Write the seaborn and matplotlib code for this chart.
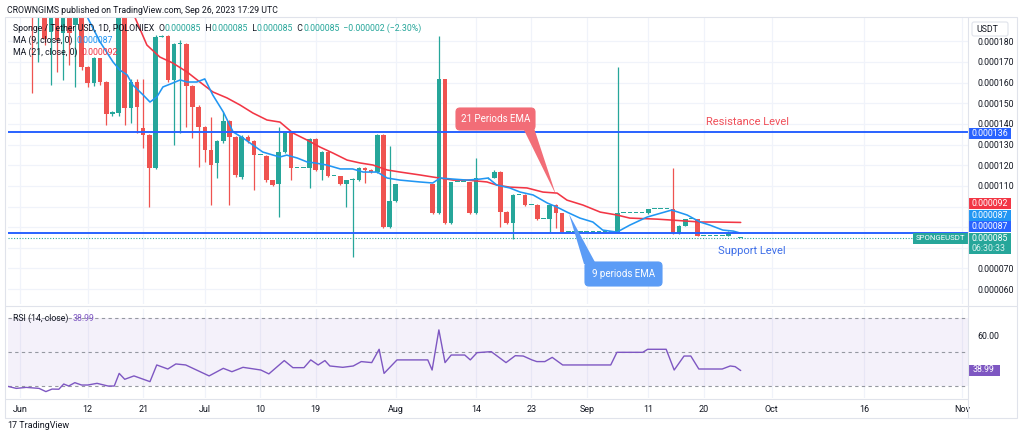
import matplotlib
matplotlib.use("Agg")
import matplotlib.pyplot as plt
import matplotlib.dates as mdates
from matplotlib.patches import Polygon, FancyBboxPatch, Rectangle
import seaborn as sns
import numpy as np
import pandas as pd

# SPONGE/USDT daily candles from 2023-06-03, prices in millionths of USDT
candle_start = "2023-06-03"
opens = [215, 200, 208, 184.7, 196, 184, 197, 188, 196, 167.7,
         159.7, 171.8, 160.5, 144.6, 145.5, 196, 147.5, 160.5, 137.9, 134.6,
         118.5, 182.3, 182.8, 161.3, 178.6, 178.6, 158.5, 148.4, 138.7, 127.4,
         120.9, 131.7, 141.4, 133.8, 114.4, 133.8, 131.7, 124.9, 124.6, 112.8,
         110.7, 126.6, 135.4, 118.8, 118.8, 118.8, 132.7, 117.7, 126.6, 114.9,
         114.9, 110.7, 112.8, 112.8, 118.8, 117.7, 116.5, 134.6, 89.9, 102.6,
         110.7, 110.7, 110.7, 110.7, 110.7, 110.7, 96.7, 161.8, 91.8, 111.7,
         111.7, 111.7, 96.7, 113.6, 113.6, 114, 116.9, 97.5, 91.8, 105.6,
         105.6, 100.7, 100.7, 93.9, 93.9, 100.7, 96.7, 87.8, 87.8, 87.8,
         87.8, 87.8, 87.8, 87.8, 87.8, 87.8, 96.7, 96.7, 96.7, 96.7,
         96.7, 98.6, 98.6, 98.6, 98.6, 87, 90.7, 93.9, 93.9, 85.8,
         85.8, 85.8, 85.8, 85.8, 87, 85]
highs = [222, 212, 210, 198, 197, 197, 199, 198, 197, 168,
         172.5, 172, 161, 146.5, 198, 197, 162, 162, 162, 135,
         183, 183, 183, 179, 180.7, 179, 159, 149, 139, 143.5,
         132, 146, 142, 134, 134.5, 134.5, 132, 124.9, 125, 113,
         138.7, 136, 136, 118.8, 118.8, 133, 133, 127, 127, 114.9,
         115, 113, 114, 119, 119, 118, 135, 135, 129.3, 111,
         110.7, 110.7, 110.7, 110.7, 110.7, 111, 182.8, 162, 112, 111.7,
         111.7, 112, 123.7, 113.6, 114.5, 117.5, 117, 98, 106, 105.6,
         106, 100.7, 101, 93.9, 101, 101, 97, 87.8, 87.8, 87.8,
         87.8, 87.8, 87.8, 87.8, 87.8, 167.7, 96.7, 96.7, 96.7, 96.7,
         99, 98.6, 98.6, 98.6, 118.5, 91, 94.2, 93.9, 94, 85.8,
         85.8, 85.8, 85.8, 88, 87, 85]
lows = [154.8, 170.2, 178, 158.9, 165.3, 161.3, 168.5, 158, 166, 158,
        158.5, 159, 139.5, 144, 144, 139.5, 140.3, 135.4, 128.2, 99.9,
        118, 182, 160.5, 129.8, 135.4, 138.7, 133, 119.3, 121.7, 100.7,
        113.6, 131, 100.7, 114.5, 113.5, 131, 108, 124.9, 112, 110,
        95.1, 126, 112.8, 118.8, 118.8, 109.1, 117, 112.8, 114.5, 114.9,
        110.3, 99.9, 75.7, 112.5, 111.2, 116, 116, 89.5, 89.5, 102,
        110.7, 110.7, 110.7, 110.7, 110.7, 96.5, 96.5, 91.5, 91.5, 111.7,
        111.7, 96.5, 96.5, 113.6, 113.5, 113.8, 90.2, 91.5, 84.2, 105.6,
        100.5, 100.7, 93.5, 93.9, 87.5, 89.4, 87.5, 87.8, 87.8, 87.8,
        87.8, 87.8, 87.8, 87.8, 87.8, 87.5, 96.7, 96.7, 96.7, 96.7,
        96.5, 98.6, 98.6, 98.6, 86.8, 86.8, 90.5, 93.9, 85.5, 85.8,
        85.8, 85.8, 85.8, 85.6, 87, 85]
closes = [200, 208, 181, 196, 180.7, 196, 184, 196, 167.7, 159.7,
          171.8, 160.5, 144.6, 146, 196, 147.5, 160.5, 148.4, 134.6, 118.5,
          182.3, 182.8, 161.3, 178.6, 179.1, 158.5, 148.4, 138.7, 127.4, 120.1,
          131.7, 141.4, 133.8, 115.2, 133.8, 131.7, 124.9, 124.9, 112.8, 110.4,
          126.6, 135.4, 118.8, 118.8, 118.8, 132.7, 117.7, 126.6, 114.9, 114.9,
          110.7, 112.8, 113.5, 118.8, 117.7, 116.5, 134.6, 89.9, 102.6, 110.7,
          110.7, 110.7, 110.7, 110.7, 110.7, 96.7, 161.8, 91.8, 111.7, 111.7,
          111.7, 96.7, 113.6, 113.6, 114, 116.9, 97.5, 91.8, 105.6, 105.6,
          100.7, 100.7, 93.9, 93.9, 100.7, 96.7, 87.8, 87.8, 87.8, 87.8,
          87.8, 87.8, 87.8, 87.8, 87.8, 96.7, 96.7, 96.7, 96.7, 96.7,
          98.6, 98.6, 98.6, 98.6, 87, 90.7, 93.9, 93.9, 85.8, 85.8,
          85.8, 85.8, 85.8, 87, 87, 85]

# moving averages (days after 2023-06-01, price)
ma9_days = [10.5, 11.0, 13.0, 15.1, 16.2, 17.4, 18.3, 20.0, 21.1, 22.2,
            23.2, 24.8, 26.0, 27.1, 28.7, 30.0, 31.3, 33.0, 34.6, 36.2,
            37.8, 39.4, 41.1, 42.2, 43.3, 45.0, 46.6, 47.9, 49.8, 52.0,
            54.0, 55.7, 58.0, 59.6, 61.7, 64.9, 67.0, 68.2, 70.3, 72.6,
            74.7, 76.0, 77.4, 79.5, 81.2, 83.3, 85.6, 87.2, 88.8, 90.9,
            93.0, 94.6, 96.9, 99.0, 101.8, 105.8, 108.3, 110.4, 112.0, 114.1,
            115.8, 117.0]
ma9_vals = [196, 191.3, 179.7, 170, 166.1, 163.7, 158.9, 154, 150.6, 153,
            157.9, 159.8, 161.3, 160.3, 160.3, 161.8, 154, 145.8, 136.1, 133.2,
            129.8, 126.4, 124.9, 124, 124.9, 123.5, 121.6, 121.1, 120.1, 118.2,
            118.2, 116.7, 116.7, 113.8, 112.8, 111.9, 111.4, 113.8, 113.3, 112.8,
            113.3, 113.8, 110.4, 109, 107, 105.6, 101.7, 99.7, 97.3, 94.4,
            92.5, 88.6, 87.6, 91, 94.9, 98.3, 95.9, 92.5, 91, 88.6,
            88.1, 87.1]
ma21_days = [18.2, 18.7, 20.6, 22.7, 24.8, 27.1, 29.2, 31.3, 33.6, 35.7,
             37.8, 40.1, 42.2, 44.3, 46.6, 48.7, 50.8, 53.1, 55.2, 57.3,
             59.6, 61.7, 64.9, 67.0, 70.3, 72.6, 75.8, 77.4, 79.5, 82.3,
             84.9, 87.2, 88.8, 91.4, 94.2, 96.9, 99.0, 103.4, 106.0, 110.4,
             113.1, 117.0]
ma21_vals = [195, 191.3, 178.2, 172.4, 169.5, 165.2, 160.3, 155.5, 152.6, 149.2,
             145.3, 141.9, 140.9, 135.6, 132.2, 128.8, 125.9, 122.5, 121.1, 120.1,
             117.7, 116.7, 115.3, 114.3, 112.8, 112.8, 111.9, 110.4, 109.4, 109,
             107, 106.5, 103.1, 100.7, 97.3, 95.9, 94.4, 93.9, 93.4, 92.5,
             92.5, 92.3]

rsi_days = [-2.2, -0.6, 1.0, 3.1, 4.2, 5.2, 6.3, 7.1, 7.9, 8.9,
            10.0, 11.0, 12.5, 14.3, 15.3, 16.1, 17.0, 18.5, 21.1, 22.2,
            24.0, 25.3, 26.9, 30.7, 33.0, 34.4, 36.2, 39.1, 40.4, 42.9,
            44.3, 46.1, 47.2, 48.4, 49.5, 50.3, 52.4, 54.1, 55.4, 57.1,
            58.3, 59.1, 61.2, 66.2, 66.9, 68.0, 69.0, 70.0, 72.2, 73.1,
            74.2, 76.5, 78.9, 80.4, 81.7, 83.1, 83.9, 85.2, 86.4, 88.1,
            95.9, 96.9, 101.1, 101.9, 104.9, 106.2, 107.8, 108.9, 110.2, 114.0,
            115.3, 116.1, 117.0]
rsi_vals = [29.8, 28.4, 29, 28.4, 26.5, 28, 27.9, 31, 29.8, 31.8,
            30.4, 30.4, 31.4, 29.8, 29.8, 37.3, 33.8, 35.8, 32.4, 42.3,
            39.9, 42.9, 42.3, 35.8, 40.3, 38.3, 40.9, 39.3, 37, 44.9,
            40.7, 40.7, 45.3, 42.3, 44.9, 41.7, 40.9, 41.7, 44.3, 43.7,
            51.6, 37.3, 45.3, 45.3, 39.3, 63.1, 43.7, 48.2, 48.2, 45.3,
            49.6, 50.2, 43.7, 47.8, 47.6, 45.3, 44.3, 44.3, 46.8, 42.3,
            42.3, 49.8, 49.8, 51.6, 51.6, 39.3, 47.6, 47.6, 39.9, 39.9,
            41.7, 41.3, 38.99]

resistance = 136
support = 87
price_ticks = [60, 70, 110, 120, 130, 140, 150, 160, 170, 180]
tick_dates = ["2023-06-01", "2023-06-12", "2023-06-21", "2023-07-01", "2023-07-10",
              "2023-07-19", "2023-08-01", "2023-08-14", "2023-08-23", "2023-09-01",
              "2023-09-11", "2023-09-20", "2023-10-01", "2023-10-16", "2023-11-01"]
tick_labels = ["Jun", "12", "21", "Jul", "10", "19", "Aug", "14", "23", "Sep",
               "11", "20", "Oct", "16", "Nov"]

sns.set_theme(style="white")
plt.rcParams["font.family"] = ["Roboto", "DejaVu Sans"]

teal, red = "#26a69a", "#ef5350"
dark = "#131722"
grid_c = "#f0f3fa"

base = mdates.date2num(pd.Timestamp("2023-06-01"))
def dnum(days):
    return base + np.asarray(days, dtype=float)

fig = plt.figure(figsize=(10.24, 4.43), dpi=100)
W, H = 1024, 443
def box(l, t, r, b):
    return [l / W, 1 - b / H, (r - l) / W, (b - t) / H]

ax = fig.add_axes(box(8, 18, 968, 304))
rx = fig.add_axes(box(8, 309, 968, 398), sharex=ax)

# candles
o, h, l, c = map(np.array, (opens, highs, lows, closes))
cx = mdates.date2num(pd.date_range(candle_start, periods=len(o), freq="D"))
cols = np.where(c >= o, teal, red)
ax.vlines(cx, l, h, colors=cols, lw=0.9, zorder=3)
ax.bar(cx, np.maximum(np.abs(c - o), 0.45), bottom=np.minimum(o, c), width=0.74,
       color=cols, linewidth=0, zorder=4)

sns.lineplot(x=dnum(ma21_days), y=ma21_vals, ax=ax, color="#f23645", linewidth=1.15,
             estimator=None, sort=False, zorder=5)
sns.lineplot(x=dnum(ma9_days), y=ma9_vals, ax=ax, color="#2196f3", linewidth=1.15,
             estimator=None, sort=False, zorder=5)

ax.axhline(resistance, color="#2962ff", lw=1.4, zorder=6)
ax.axhline(support, color="#2962ff", lw=1.4, zorder=6)
ax.axhline(c[-1], color=teal, lw=0.8, ls=(0, (1, 1.5)), zorder=2)

ax.set_xlim(dnum(-1.95), dnum(153.9))
ax.set_ylim(52.8, 191.3)
ax.yaxis.tick_right()
ax.set_yticks(np.arange(60, 190, 10))
ax.set_yticklabels([f"{v * 1e-6:.6f}" if v in price_ticks else "" for v in np.arange(60, 190, 10)])
ax.tick_params(axis="y", length=0, pad=7, labelsize=6.3, labelcolor=dark)
ax.tick_params(axis="x", length=0, labelbottom=False)
ax.grid(True, color=grid_c, lw=0.9)
for s in ax.spines.values():
    s.set_visible(False)

# RSI panel
rx.axhspan(30, 70, color="#7e57c2", alpha=0.08, lw=0)
for lev in (70, 50, 30):
    rx.axhline(lev, color="#9598a1", lw=0.8, ls=(0, (3, 3)))
sns.lineplot(x=dnum(rsi_days), y=rsi_vals, ax=rx, color="#7e57c2", linewidth=1,
             estimator=None, sort=False)
rx.set_ylim(22.7, 75.5)
rx.yaxis.tick_right()
rx.set_yticks([60])
rx.set_yticklabels(["60.00"])
rx.set_xticks(mdates.date2num(pd.to_datetime(tick_dates)))
rx.set_xticklabels(tick_labels)
rx.tick_params(axis="y", length=0, pad=7, labelsize=6.3, labelcolor=dark)
rx.tick_params(axis="x", length=0, pad=5, labelsize=6.5, labelcolor=dark)
rx.grid(True, axis="x", color=grid_c, lw=0.9)
rx.set_xlabel("")
rx.set_ylabel("")
ax.set_xlabel("")
ax.set_ylabel("")
for s in rx.spines.values():
    s.set_visible(False)

# overlay in pixel coordinates for the TradingView furniture
ov = fig.add_axes([0, 0, 1, 1])
ov.set_xlim(0, W)
ov.set_ylim(H, 0)
ov.axis("off")
ov.patch.set_alpha(0)

line_c = "#e0e3eb"
ov.add_patch(Rectangle((5, 17), 1012, 401, fill=False, ec=line_c, lw=0.8))
ov.plot([968, 968], [17, 418], color=line_c, lw=0.8)
ov.plot([5, 1017], [306, 306], color=line_c, lw=0.8)
ov.plot([5, 968], [399, 399], color=line_c, lw=0.8)

ov.add_patch(FancyBboxPatch((972, 22), 36, 14, boxstyle="round,pad=0,rounding_size=2",
                            fc="white", ec=line_c, lw=0.8))
ov.text(976, 29.5, "USDT", fontsize=6.3, color=dark, va="center")

def price_tag(y, txt, col):
    ov.add_patch(Rectangle((969, y - 5.5), 42, 11, fc=col, ec="none"))
    ov.text(972, y, txt, fontsize=6.3, color="white", va="center")

price_tag(133.5, f"{resistance * 1e-6:.6f}", "#2962ff")
price_tag(203.5, f"{ma21_vals[-1] * 1e-6:.6f}", "#f23645")
price_tag(215.2, f"{ma9_vals[-1] * 1e-6:.6f}", "#2196f3")
price_tag(226.9, f"{support * 1e-6:.6f}", "#2962ff")
ov.add_patch(Rectangle((969, 232.6), 42, 21.5, fc=teal, ec="none"))
ov.text(972, 238.3, f"{c[-1] * 1e-6:.6f}", fontsize=6.3, color="white", va="center")
ov.text(972, 248.6, "06:30:33", fontsize=6.3, color="#d8f0ed", va="center")
ov.add_patch(Rectangle((913, 232.8), 55, 11, fc=teal, ec="none"))
ov.text(940.5, 238.3, "SPONGEUSDT", fontsize=5.6, color="white", va="center", ha="center")

ov.add_patch(Rectangle((969, 364.5), 31, 11, fc="#7e57c2", ec="none"))
ov.text(973, 370, f"{rsi_vals[-1]:.2f}", fontsize=6.3, color="white", va="center")

# callouts
ov.add_patch(Polygon([(523, 128), (534, 128), (556, 195)], closed=True, fc="#f26d77", ec="none"))
ov.add_patch(FancyBboxPatch((456, 108), 79, 22, boxstyle="round,pad=0,rounding_size=4",
                            fc="#f26d77", ec="#f26d77", lw=0.8))
ov.text(495.5, 119, "21 Periods EMA", fontsize=7, color="white", ha="center", va="center")

ov.add_patch(Polygon([(569, 214), (584, 264), (596, 264)], closed=True, fc="#5b9cf6", ec="none"))
ov.add_patch(FancyBboxPatch((585, 262), 77, 24, boxstyle="round,pad=0,rounding_size=4",
                            fc="#5b9cf6", ec="#5b9cf6", lw=0.8))
ov.text(623.5, 274, "9 periods EMA", fontsize=7, color="white", ha="center", va="center")

ov.text(706, 122, "Resistance Level", fontsize=8, color="#f0505a", va="center")
ov.text(718, 251, "Support Level", fontsize=8, color="#3d6ee8", va="center")

# header and legends
def chain(parts, x, y, size=6.3):
    t = ov.text(x, y, parts[0][0], color=parts[0][1], fontsize=size, va="center")
    for s, col in parts[1:]:
        t = ov.annotate(s, xy=(1, 0), xycoords=t, xytext=(0, 0), textcoords="offset points",
                        color=col, fontsize=size, va="bottom")

ov.text(7, 10, "CROWNGIMS published on TradingView.com, Sep 26, 2023 17:29 UTC",
        fontsize=6.3, color=dark, va="center")
chg = c[-1] - c[-2]
chain([("Sponge / Tether USD, 1D, POLONIEX  ", dark),
       ("O", dark), (f"{o[-1] * 1e-6:.6f}", teal),
       ("  H", dark), (f"{h[-1] * 1e-6:.6f}", teal),
       ("  L", dark), (f"{l[-1] * 1e-6:.6f}", teal),
       ("  C", dark), (f"{c[-1] * 1e-6:.6f}", teal),
       (f"  \u2212{abs(chg) * 1e-6:.6f} (\u2212{abs(chg) / c[-2] * 100:.2f}%)", teal)], 13, 28)
chain([("MA (9, close, 0)  ", dark), (f"{ma9_vals[-1] * 1e-6:.6f}", "#2196f3")], 13, 40)
chain([("MA (21, close, 0)  ", dark), (f"{ma21_vals[-1] * 1e-6:.6f}", "#f23645")], 13, 52)
chain([("RSI (14, close)  ", dark), (f"{rsi_vals[-1]:.2f}", "#7e57c2")], 13, 318)

chain([("17", dark), (" TradingView", dark)], 7, 425, size=6.5)

fig.savefig("out.png", dpi=100)
